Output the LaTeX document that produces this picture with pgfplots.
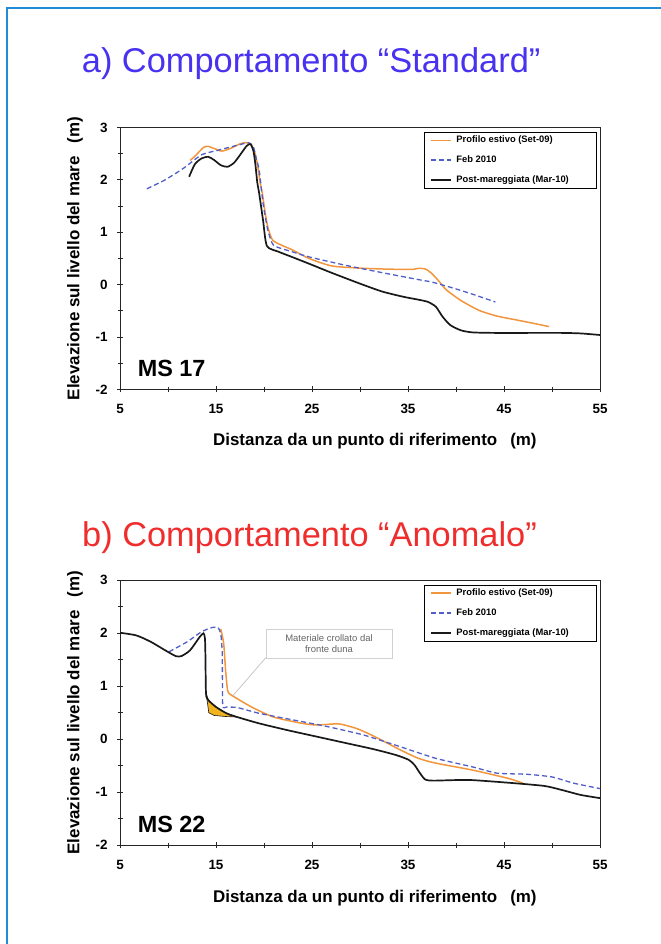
\documentclass[border=0pt]{standalone}
\usepackage{pgfplots}
\pgfplotsset{compat=1.18}
\usepackage{fontspec}
\setmainfont{Liberation Sans}
\definecolor{orangeline}{RGB}{242,150,62}
\definecolor{blueline}{RGB}{80,95,200}
\definecolor{blackline}{RGB}{25,25,25}
\definecolor{framecol}{RGB}{30,140,215}
\definecolor{titleblue}{RGB}{72,50,240}
\definecolor{titlered}{RGB}{240,45,45}
\definecolor{fillyellow}{RGB}{240,178,30}

\pgfplotsset{
  prof/.style={
    scale only axis, width=480bp,
    xmin=5, xmax=55, ymin=-2, ymax=3,
    xtick={5,15,...,55}, ytick={-2,-1,...,3},
    minor xtick={10,20,...,50}, minor ytick={-1.5,-0.5,...,2.5},
    tick align=center, xtick pos=bottom, ytick pos=left,
    major tick length=6bp, minor tick length=5bp,
    axis line style={draw=black!85, line width=0.9bp},
    every tick/.style={black!85, line width=0.8bp},
    /pgf/number format/assume math mode=true,
    ticklabel style={font=\bfseries\fontsize{13.5}{13.5}\selectfont},
    xticklabel style={yshift=-8bp},
    yticklabel style={xshift=-6bp},
    label style={font=\bfseries\fontsize{17}{17}\selectfont},
    ylabel={Elevazione sul livello del mare\hspace{13bp}(m)},
    xlabel={Distanza da un punto di riferimento\hspace{13bp}(m)},
    ylabel style={at={(axis description cs:-0.094,0.5)}, anchor=center},
    legend style={at={(axis description cs:0.993,0.983)}, anchor=north east,
      draw=black, font=\bfseries\fontsize{9.4}{10}\selectfont,
      inner xsep=6bp, inner ysep=2bp, row sep=7.5bp,
      /tikz/every odd column/.append style={column sep=3bp}},
    legend cell align=left,
    legend image code/.code={\draw[##1] (0bp,0bp) -- (20bp,0bp);},
    clip=true,
  },
  orng/.style={color=orangeline, line width=1.5bp, smooth, tension=0.4,
    legend image post style={line width=1.5bp}},
  bdash/.style={color=blueline, line width=1.3bp, dash pattern=on 5bp off 3bp, smooth, tension=0.3,
    legend image post style={line width=1.3bp}},
  blk/.style={color=blackline, line width=1.7bp, smooth, tension=0.4,
    legend image post style={line width=1.7bp}},
}

\begin{document}
\begin{tikzpicture}
\path[use as bounding box] (0,0) rectangle (661bp,944bp);
\draw[framecol, line width=1.8bp] (7bp,-5bp) -- (7bp,936bp) -- (670bp,936bp);

\node[anchor=base west, inner sep=0, text=titleblue, font=\fontsize{34.5}{38}\selectfont] at (81.7bp,871.3bp) {a) Comportamento “Standard”};
\node[anchor=base west, inner sep=0, text=titlered, font=\fontsize{34.5}{38}\selectfont] at (82bp,397bp) {b) Comportamento “Anomalo”};

% ---------- Top plot ----------
\begin{axis}[prof, height=262bp, at={(120bp,554.5bp)}, anchor=south west,
  xlabel style={at={(axis description cs:0.531,-0.197)}, anchor=center}]
\addplot[orng] coordinates {
(12.3,2.37) (12.9,2.47) (13.7,2.62) (14.2,2.64) (14.8,2.6) (15.6,2.55) (16.5,2.6) (17.4,2.68) (18.0,2.71) (18.6,2.69) (19.0,2.55) (19.3,2.31) (19.6,1.95) (19.85,1.72) (20.1,1.4) (20.4,1.1) (20.9,0.85) (22.0,0.74) (22.9,0.67) (24.7,0.5) (27.0,0.36) (29.6,0.32) (32.3,0.30) (35.3,0.29) (36.0,0.31) (36.8,0.30) (37.5,0.21) (38.3,0.05) (39.0,-0.10) (40.5,-0.30) (42.4,-0.49) (44.3,-0.60) (46.5,-0.68) (48.4,-0.75) (49.7,-0.80)
};
\addlegendentry{\makebox[132bp][l]{Profilo estivo (Set-09)}}
\addplot[bdash] coordinates {
(7.8,1.83) (9.7,2.0) (11.6,2.22) (13.5,2.48) (15.3,2.57) (17.2,2.66) (18.4,2.71) (18.9,2.63) (19.2,2.4) (19.5,2.19) (19.9,1.55) (20.4,1.04) (21.0,0.75) (22.9,0.63) (24.7,0.53) (28.5,0.37) (32.3,0.23) (36.0,0.10) (37.5,0.05) (39.8,-0.07) (41.7,-0.18) (44.1,-0.33)
};
\addlegendentry{\makebox[132bp][l]{Feb 2010}}
\addplot[blk] coordinates {
(12.2,2.06) (12.8,2.3) (13.5,2.41) (14.2,2.44) (14.8,2.38) (15.5,2.28) (16.2,2.25) (16.9,2.33) (17.6,2.5) (18.2,2.65) (18.6,2.68) (18.9,2.55) (19.1,2.3) (19.3,1.95) (19.5,1.74) (19.9,1.23) (20.3,0.74) (21.5,0.63) (22.9,0.53) (24.7,0.40) (27.0,0.23) (30.0,0.02) (32.3,-0.13) (34.5,-0.23) (36.2,-0.29) (37.1,-0.33) (37.9,-0.42) (38.6,-0.61) (39.4,-0.77) (40.5,-0.87) (41.7,-0.91) (44,-0.92) (47.3,-0.92) (51,-0.92) (53,-0.93) (55,-0.96)
};
\addlegendentry{\makebox[132bp][l]{Post-mareggiata (Mar-10)}}
\node[anchor=base west, inner sep=0, font=\bfseries\fontsize{23.5}{24}\selectfont] at (axis cs:6.83,-1.76) {MS 17};
\end{axis}

% ---------- Bottom plot ----------
\begin{axis}[prof, height=265bp, at={(120bp,98.7bp)}, anchor=south west,
  xlabel style={at={(axis description cs:0.531,-0.199)}, anchor=center}]
\addplot[fill=fillyellow, draw=blackline, line width=0.6bp, forget plot] coordinates {
(13.96,0.88) (14.2,0.74) (15.0,0.61) (16.1,0.49) (17.2,0.42) (16.0,0.43) (14.8,0.45) (14.25,0.5) (14.1,0.7)
} -- cycle;
\draw[gray!45, line width=0.8bp] (axis cs:20.19,1.54) -- (axis cs:16.8,0.83);
\addplot[orng] coordinates {
(15.5,2.08) (15.8,1.81) (16.0,1.30) (16.2,0.93) (16.4,0.86) (16.9,0.80) (18.7,0.61) (21.0,0.42) (24.0,0.30) (25.5,0.27) (27.8,0.29) (29.7,0.20) (31.2,0.08) (32.3,-0.02) (34.2,-0.20) (36.1,-0.36) (37.9,-0.45) (41.7,-0.58) (45.5,-0.74) (47.0,-0.83)
};
\addlegendentry{\makebox[132bp][l]{Profilo estivo (Set-09)}}
\addplot[bdash] coordinates {
(10.1,1.65) (12.0,1.84) (13.5,2.03) (14.6,2.11) (15.2,2.11) (15.5,1.99) (15.65,1.62) (15.7,0.64) (16.1,0.61) (17.2,0.60) (19.5,0.49) (22.9,0.37) (26.6,0.24) (30.4,0.08) (34.2,-0.14) (37.9,-0.36) (41.7,-0.52) (44.3,-0.64) (47.4,-0.66) (50,-0.71) (52.3,-0.83) (55,-0.93)
};
\addlegendentry{\makebox[132bp][l]{Feb 2010}}
\addplot[blk] coordinates {
(5,2.01) (6.7,1.96) (8.2,1.84) (9.7,1.68) (10.8,1.57) (11.4,1.57) (12.3,1.68) (13.3,1.93) (13.7,2.0) (13.85,1.9) (13.9,1.56) (13.96,0.86) (14.2,0.74) (15.0,0.61) (16.1,0.49) (17.2,0.42) (19.5,0.30) (22.5,0.17) (25.5,0.05) (28.5,-0.07) (31.5,-0.19) (33.8,-0.30) (35.1,-0.39) (35.7,-0.49) (36.25,-0.64) (36.8,-0.76) (37.6,-0.78) (39.8,-0.77) (41.7,-0.77) (45.5,-0.82) (49.2,-0.88) (51.1,-0.96) (53.0,-1.05) (55,-1.11)
};
\addlegendentry{\makebox[132bp][l]{Post-mareggiata (Mar-10)}}
\node[draw=gray!35, fill=white, text=black!60, font=\fontsize{9.5}{11}\selectfont, align=center, minimum width=126bp, minimum height=29bp, inner sep=1bp] at (axis cs:26.77,1.81) {Materiale crollato dal\\fronte duna};
\node[anchor=base west, inner sep=0, font=\bfseries\fontsize{23.5}{24}\selectfont] at (axis cs:6.83,-1.75) {MS 22};
\end{axis}
\end{tikzpicture}
\end{document}
